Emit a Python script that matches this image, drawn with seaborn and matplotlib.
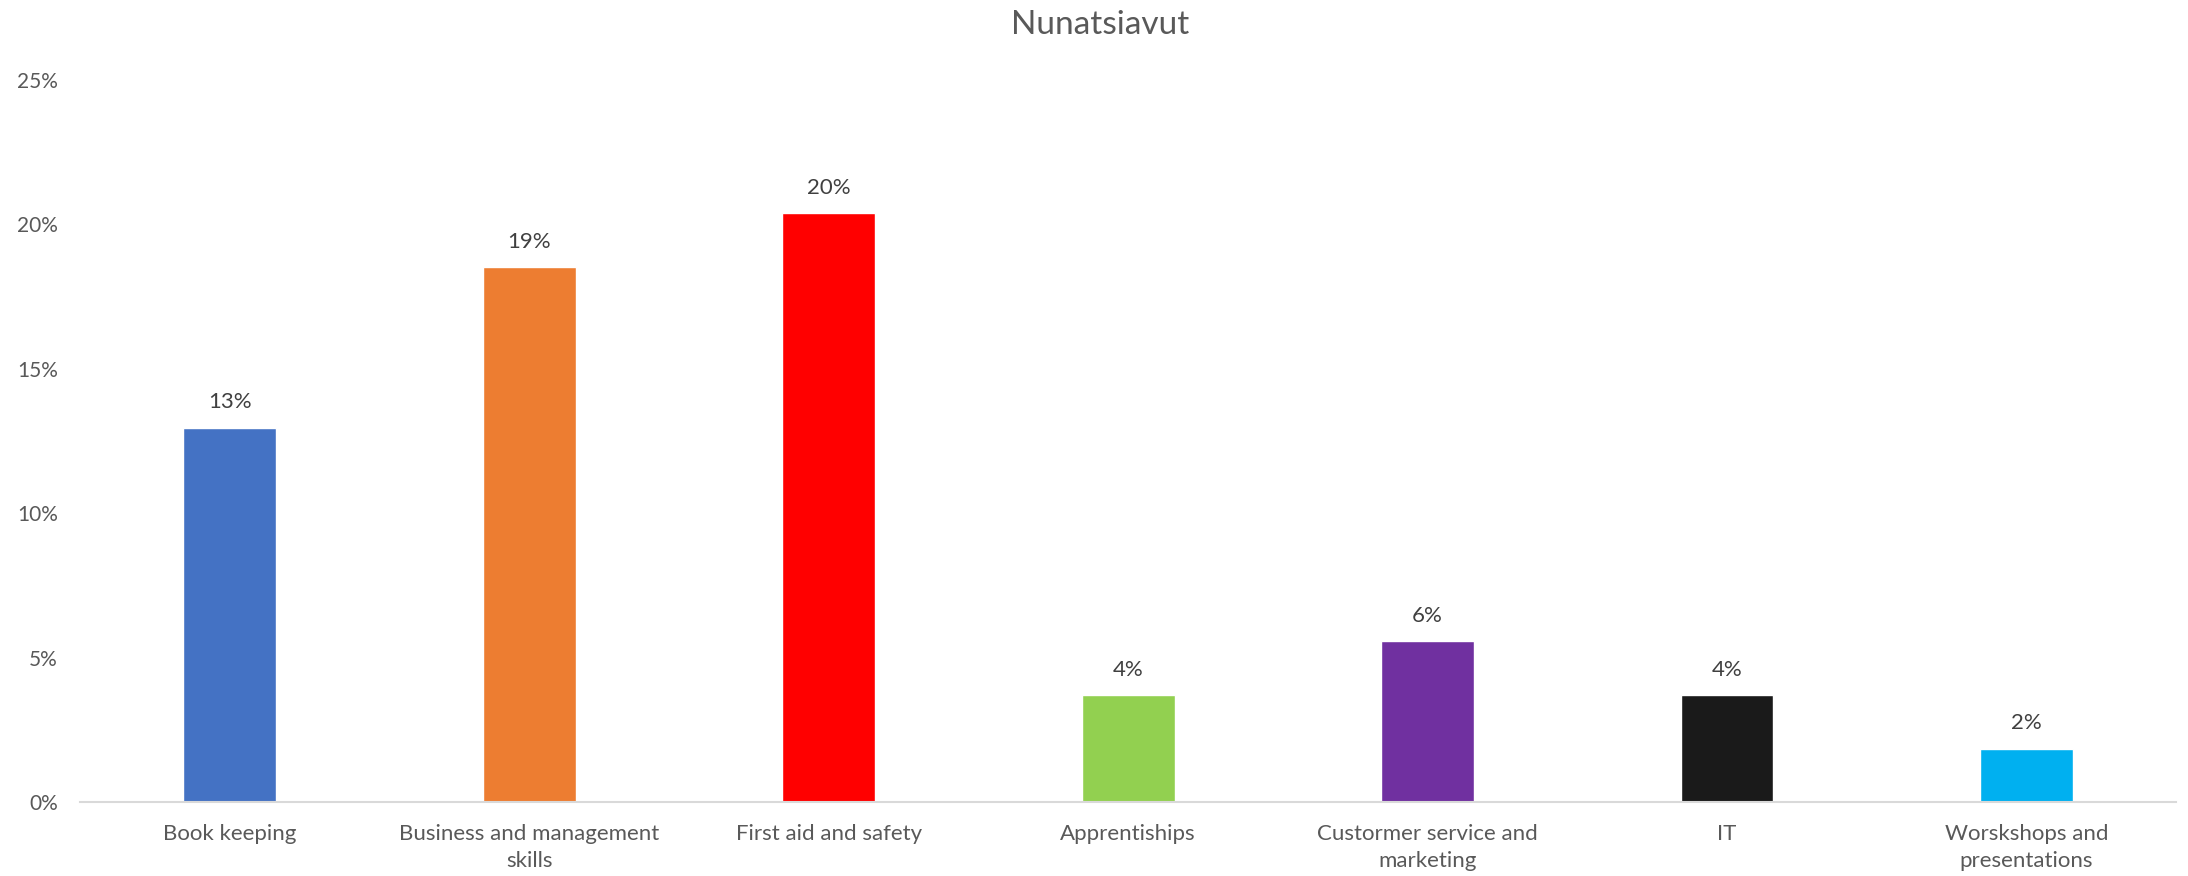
import numpy as np
import seaborn as sns
import matplotlib.pyplot as plt
import pandas as pd
from matplotlib.ticker import PercentFormatter

# Data
categories = [
    "Book keeping",
    "Business and management\nskills",
    "First aid and safety",
    "Apprentiships",
    "Custormer service and\nmarketing",
    "IT",
    "Worskshops and\npresentations",
]
shares = [0.1296, 0.1852, 0.2037, 0.0370, 0.0556, 0.0370, 0.0185]
bar_colors = ["#4472C4", "#ED7D31", "#FF0000", "#92D050", "#7030A0", "#1A1A1A", "#00B0F0"]

df = pd.DataFrame({"category": categories, "share": shares})

sns.set_style("white")
plt.rcParams['font.family'] = ['Lato', 'DejaVu Sans']
text_color = "#595959"

fig = plt.figure(figsize=(21.88, 8.76), dpi=100)
ax = fig.add_axes([0.0366, 0.0845, 0.958, 0.8245])

sns.barplot(data=df, x="category", y="share", hue="category",
            palette=bar_colors, legend=False, width=0.31, saturation=1,
            ax=ax)

for p, v in zip(ax.patches, shares):
    ax.annotate(f"{v:.0%}", (p.get_x() + p.get_width() / 2, p.get_height()),
                xytext=(0, 11), textcoords="offset points",
                ha="center", va="bottom", fontsize=16, color="#404040")

ax.set_ylim(0, 0.25)
ax.set_xlim(-0.5, 6.5)
ax.set_yticks(np.arange(0, 0.26, 0.05))
ax.yaxis.set_major_formatter(PercentFormatter(1.0, decimals=0))
ax.set_xlabel("")
ax.set_ylabel("")

# title is centred on the whole figure, not on the axes
fig.suptitle("Nunatsiavut", fontsize=24, color=text_color, x=0.503, y=0.972, va="center")

ax.tick_params(axis="y", length=0, pad=16, labelsize=15, labelcolor=text_color)
ax.tick_params(axis="x", length=0, pad=16, labelsize=16, labelcolor=text_color)
for lbl in ax.get_xticklabels():
    lbl.set_linespacing(1.45)

for s in ["top", "right", "left"]:
    ax.spines[s].set_visible(False)
ax.spines["bottom"].set_color("#D9D9D9")
ax.spines["bottom"].set_linewidth(1.5)

fig.savefig("out.png", dpi=100)
